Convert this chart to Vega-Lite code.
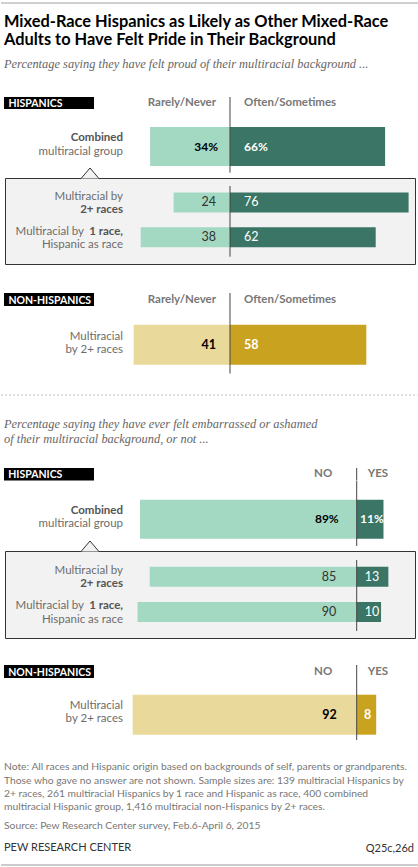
{
 "$schema": "https://vega.github.io/schema/vega-lite/v6.json",
 "padding": 0,
 "spacing": 0,
 "bounds": "flush",
 "center": true,
 "config": {
  "view": {"stroke": null},
  "font": "Lato",
  "text": {"font": "Lato"},
  "locale": {"number": {"decimal": ".", "thousands": ",", "grouping": [3], "currency": ["", "%"]}}
 },
 "datasets": {
  "headers": [
   {"id": "pride_hisp", "population": "HISPANICS", "left": "Rarely/Never", "right": "Often/Sometimes"},
   {"id": "pride_non", "population": "NON-HISPANICS", "left": "Rarely/Never", "right": "Often/Sometimes"},
   {"id": "emb_hisp", "population": "HISPANICS", "left": "NO", "right": "YES"},
   {"id": "emb_non", "population": "NON-HISPANICS", "left": "NO", "right": "YES"}
  ],
  "pride": [
   {"set": "hisp_combined", "group": "Combined multiracial group", "l1": "", "l1b": "Combined", "l2": "multiracial group", "l2b": "", "rarely_never": 34, "often_sometimes": 66},
   {"set": "hisp_sub", "group": "Multiracial by 2+ races", "l1": "Multiracial by", "l1b": "", "l2": "", "l2b": "2+ races", "rarely_never": 24, "often_sometimes": 76},
   {"set": "hisp_sub", "group": "Multiracial by 1 race, Hispanic as race", "l1": "Multiracial by", "l1b": "1 race,", "l2": "Hispanic as race", "l2b": "", "rarely_never": 38, "often_sometimes": 62},
   {"set": "non_hisp", "group": "Non-Hispanic multiracial by 2+ races", "l1": "Multiracial", "l1b": "", "l2": "by 2+ races", "l2b": "", "rarely_never": 41, "often_sometimes": 58}
  ],
  "embarrassed": [
   {"set": "hisp_combined", "group": "Combined multiracial group", "l1": "", "l1b": "Combined", "l2": "multiracial group", "l2b": "", "no": 89, "yes": 11},
   {"set": "hisp_sub", "group": "Multiracial by 2+ races", "l1": "Multiracial by", "l1b": "", "l2": "", "l2b": "2+ races", "no": 85, "yes": 13},
   {"set": "hisp_sub", "group": "Multiracial by 1 race, Hispanic as race", "l1": "Multiracial by", "l1b": "1 race,", "l2": "Hispanic as race", "l2b": "", "no": 90, "yes": 10},
   {"set": "non_hisp", "group": "Non-Hispanic multiracial by 2+ races", "l1": "Multiracial", "l1b": "", "l2": "by 2+ races", "l2b": "", "no": 92, "yes": 8}
  ]
 },
 "vconcat": [
  {"width": 418, "height": 3, "data": {"values": [{}]}, "mark": {"type": "rule", "color": "#a0a0a0", "strokeWidth": 1}, "encoding": {"y": {"datum": 0, "type": "quantitative", "scale": {"domain": [0, 1], "nice": false}, "axis": null}}},
  {"width": 418, "height": 94, "data": {"values": []}, "mark": "text", "encoding": {}},
  {
   "width": 418, "height": 12,
   "title": {
    "text": ["Mixed-Race Hispanics as Likely as Other Mixed-Race", "Adults to Have Felt Pride in Their Background"],
    "subtitle": "Percentage saying they have felt proud of their multiracial background ...",
    "anchor": "start", "frame": "group", "orient": "top", "dx": 3, "offset": 26,
    "font": "Lato", "fontSize": 16.4, "fontWeight": "bold", "color": "#000", "lineHeight": 17.7,
    "subtitleFont": "Liberation Serif", "subtitleFontSize": 12.4, "subtitleFontStyle": "italic", "subtitleColor": "#666", "subtitlePadding": 10
   },
   "data": {"name": "headers"},
   "transform": [{"filter": "datum.id == 'pride_hisp'"}],
   "layer": [
    {"mark": {"type": "rect", "color": "#000"}, "encoding": {"x": {"datum": -96.17, "type": "quantitative", "scale": {"domain": [-97.447, 80.426], "nice": false}, "axis": null}, "x2": {"datum": -57.87}}},
    {"mark": {"type": "text", "align": "left", "baseline": "alphabetic", "dy": 3.7, "fontWeight": "bold", "fontSize": 10.5, "color": "#fff"}, "encoding": {"x": {"datum": -94.3, "type": "quantitative", "scale": {"domain": [-97.447, 80.426], "nice": false}, "axis": null}, "text": {"field": "population"}}},
    {"mark": {"type": "text", "align": "right", "baseline": "alphabetic", "dy": 3, "dx": -14, "fontWeight": "bold", "fontSize": 11.5, "color": "#777"}, "encoding": {"x": {"datum": 0, "type": "quantitative", "scale": {"domain": [-97.447, 80.426], "nice": false}, "axis": null}, "text": {"field": "left"}}},
    {"mark": {"type": "text", "align": "left", "baseline": "alphabetic", "dy": 3, "dx": 14, "fontWeight": "bold", "fontSize": 11.5, "color": "#777"}, "encoding": {"x": {"datum": 0, "type": "quantitative", "scale": {"domain": [-97.447, 80.426], "nice": false}, "axis": null}, "text": {"field": "right"}}},
    {"mark": {"type": "rule", "color": "#444"}, "encoding": {"x": {"datum": 0, "type": "quantitative", "scale": {"domain": [-97.447, 80.426], "nice": false}, "axis": null}}}
   ]
  },
  {
   "width": 418, "height": 69,
   "data": {"name": "pride"},
   "transform": [{"filter": "datum.set == 'hisp_combined'"}],
   "resolve": {"scale": {"x": "independent"}},
   "layer": [
    {"mark": {"type": "bar", "height": 39, "color": "#a3d9c3"}, "encoding": {"y": {"field": "group", "type": "nominal", "scale": {"type": "point", "domain": ["Combined multiracial group"], "padding": 0.5, "align": 0.5435}, "axis": null}, "x": {"field": "rarely_never", "type": "quantitative", "scale": {"domain": [97.447, -80.426], "nice": false}, "axis": null}, "x2": {"datum": 0}}},
    {"mark": {"type": "bar", "height": 39, "color": "#3a7565"}, "encoding": {"y": {"field": "group", "type": "nominal", "scale": {"type": "point", "domain": ["Combined multiracial group"], "padding": 0.5, "align": 0.5435}, "axis": null}, "x": {"field": "often_sometimes", "type": "quantitative", "scale": {"domain": [-97.447, 80.426], "nice": false}, "axis": null}, "x2": {"datum": 0}}},
    {"mark": {"type": "rule", "color": "#444", "yOffset": -37.5, "y2Offset": 26.2}, "encoding": {"x": {"datum": 0, "type": "quantitative", "scale": {"domain": [-97.447, 80.426], "nice": false}, "axis": null}, "y": {"field": "group", "type": "nominal", "scale": {"type": "point", "domain": ["Combined multiracial group"], "padding": 0.5, "align": 0.5435}, "axis": null}, "y2": {"field": "group"}}},
    {"mark": {"type": "text", "align": "right", "baseline": "alphabetic", "dy": -5.2, "fontSize": 11.5, "fontWeight": "bold", "color": "#555"}, "encoding": {"x": {"datum": -45.53, "type": "quantitative", "scale": {"domain": [-97.447, 80.426], "nice": false}, "axis": null}, "y": {"field": "group", "type": "nominal", "scale": {"type": "point", "domain": ["Combined multiracial group"], "padding": 0.5, "align": 0.5435}, "axis": null}, "text": {"field": "l1b"}}},
    {"mark": {"type": "text", "align": "right", "baseline": "alphabetic", "dy": 8.1, "fontSize": 11.5, "color": "#6d6d6d"}, "encoding": {"x": {"datum": -45.53, "type": "quantitative", "scale": {"domain": [-97.447, 80.426], "nice": false}, "axis": null}, "y": {"field": "group", "type": "nominal", "scale": {"type": "point", "domain": ["Combined multiracial group"], "padding": 0.5, "align": 0.5435}, "axis": null}, "text": {"field": "l2"}}},
    {"mark": {"type": "text", "align": "right", "baseline": "middle", "dx": -12, "fontSize": 12, "fontWeight": "bold", "color": "#000"}, "encoding": {"x": {"datum": 0, "type": "quantitative", "scale": {"domain": [-97.447, 80.426], "nice": false}, "axis": null}, "y": {"field": "group", "type": "nominal", "scale": {"type": "point", "domain": ["Combined multiracial group"], "padding": 0.5, "align": 0.5435}, "axis": null}, "text": {"field": "rarely_never", "type": "quantitative", "format": "$d"}}},
    {"mark": {"type": "text", "align": "left", "baseline": "middle", "dx": 14, "fontSize": 12, "fontWeight": "bold", "color": "#fff"}, "encoding": {"x": {"datum": 0, "type": "quantitative", "scale": {"domain": [-97.447, 80.426], "nice": false}, "axis": null}, "y": {"field": "group", "type": "nominal", "scale": {"type": "point", "domain": ["Combined multiracial group"], "padding": 0.5, "align": 0.5435}, "axis": null}, "text": {"field": "often_sometimes", "type": "quantitative", "format": "$d"}}}
   ]
  },
  {
   "width": 410, "height": 86,
   "view": {"fill": "#f2f2f2", "stroke": "#333", "strokeWidth": 1},
   "data": {"name": "pride"},
   "transform": [{"filter": "datum.set == 'hisp_sub'"}],
   "resolve": {"scale": {"x": "independent"}},
   "layer": [
    {"mark": {"type": "bar", "height": 20, "color": "#a3d9c3"}, "encoding": {"y": {"field": "group", "type": "nominal", "scale": {"type": "point", "domain": ["Multiracial by 2+ races", "Multiracial by 1 race, Hispanic as race"], "padding": 0.7356, "align": 0.4785}, "axis": null}, "x": {"field": "rarely_never", "type": "quantitative", "scale": {"domain": [95.745, -78.723], "nice": false}, "axis": null}, "x2": {"datum": 0}}},
    {"mark": {"type": "bar", "height": 20, "color": "#3a7565"}, "encoding": {"y": {"field": "group", "type": "nominal", "scale": {"type": "point", "domain": ["Multiracial by 2+ races", "Multiracial by 1 race, Hispanic as race"], "padding": 0.7356, "align": 0.4785}, "axis": null}, "x": {"field": "often_sometimes", "type": "quantitative", "scale": {"domain": [-95.745, 78.723], "nice": false}, "axis": null}, "x2": {"datum": 0}}},
    {"transform": [{"filter": "datum.l1b == ''"}], "mark": {"type": "rule", "color": "#444", "yOffset": -16.5, "y2Offset": 19.4}, "encoding": {"x": {"datum": 0, "type": "quantitative", "scale": {"domain": [-95.745, 78.723], "nice": false}, "axis": null}, "y": {"datum": "Multiracial by 2+ races", "type": "nominal", "scale": {"type": "point", "domain": ["Multiracial by 2+ races", "Multiracial by 1 race, Hispanic as race"], "padding": 0.7356, "align": 0.4785}, "axis": null}, "y2": {"datum": "Multiracial by 1 race, Hispanic as race"}}},
    {"transform": [{"filter": "datum.l1b == ''"}], "mark": {"type": "point", "shape": "M-1,0.589L0,-0.589L1,0.589", "size": 324, "fill": "#f2f2f2", "stroke": "#333", "strokeWidth": 1, "opacity": 1, "filled": true, "yOffset": -29.2}, "encoding": {"x": {"datum": -59.574, "type": "quantitative", "scale": {"domain": [-95.745, 78.723], "nice": false}, "axis": null}, "y": {"datum": "Multiracial by 2+ races", "type": "nominal", "scale": {"type": "point", "domain": ["Multiracial by 2+ races", "Multiracial by 1 race, Hispanic as race"], "padding": 0.7356, "align": 0.4785}, "axis": null}}},
    {"transform": [{"filter": "datum.l1b == ''"}], "mark": {"type": "text", "align": "right", "baseline": "alphabetic", "dy": -2.5, "fontSize": 11.5, "color": "#6d6d6d"}, "encoding": {"x": {"datum": -45.53, "type": "quantitative", "scale": {"domain": [-95.745, 78.723], "nice": false}, "axis": null}, "y": {"field": "group", "type": "nominal", "scale": {"type": "point", "domain": ["Multiracial by 2+ races", "Multiracial by 1 race, Hispanic as race"], "padding": 0.7356, "align": 0.4785}, "axis": null}, "text": {"field": "l1"}}},
    {"transform": [{"filter": "datum.l1b != ''"}], "mark": {"type": "text", "align": "right", "baseline": "alphabetic", "dy": -2.5, "dx": -39, "fontSize": 11.5, "color": "#6d6d6d"}, "encoding": {"x": {"datum": -45.53, "type": "quantitative", "scale": {"domain": [-95.745, 78.723], "nice": false}, "axis": null}, "y": {"field": "group", "type": "nominal", "scale": {"type": "point", "domain": ["Multiracial by 2+ races", "Multiracial by 1 race, Hispanic as race"], "padding": 0.7356, "align": 0.4785}, "axis": null}, "text": {"field": "l1"}}},
    {"mark": {"type": "text", "align": "right", "baseline": "alphabetic", "dy": -2.5, "fontSize": 11.5, "fontWeight": "bold", "color": "#555"}, "encoding": {"x": {"datum": -45.53, "type": "quantitative", "scale": {"domain": [-95.745, 78.723], "nice": false}, "axis": null}, "y": {"field": "group", "type": "nominal", "scale": {"type": "point", "domain": ["Multiracial by 2+ races", "Multiracial by 1 race, Hispanic as race"], "padding": 0.7356, "align": 0.4785}, "axis": null}, "text": {"field": "l1b"}}},
    {"mark": {"type": "text", "align": "right", "baseline": "alphabetic", "dy": 10.8, "fontSize": 11.5, "color": "#6d6d6d"}, "encoding": {"x": {"datum": -45.53, "type": "quantitative", "scale": {"domain": [-95.745, 78.723], "nice": false}, "axis": null}, "y": {"field": "group", "type": "nominal", "scale": {"type": "point", "domain": ["Multiracial by 2+ races", "Multiracial by 1 race, Hispanic as race"], "padding": 0.7356, "align": 0.4785}, "axis": null}, "text": {"field": "l2"}}},
    {"mark": {"type": "text", "align": "right", "baseline": "alphabetic", "dy": 10.8, "fontSize": 11.5, "fontWeight": "bold", "color": "#555"}, "encoding": {"x": {"datum": -45.53, "type": "quantitative", "scale": {"domain": [-95.745, 78.723], "nice": false}, "axis": null}, "y": {"field": "group", "type": "nominal", "scale": {"type": "point", "domain": ["Multiracial by 2+ races", "Multiracial by 1 race, Hispanic as race"], "padding": 0.7356, "align": 0.4785}, "axis": null}, "text": {"field": "l2b"}}},
    {"mark": {"type": "text", "align": "right", "baseline": "middle", "dx": -14, "fontSize": 12.5, "color": "#333"}, "encoding": {"x": {"datum": 0, "type": "quantitative", "scale": {"domain": [-95.745, 78.723], "nice": false}, "axis": null}, "y": {"field": "group", "type": "nominal", "scale": {"type": "point", "domain": ["Multiracial by 2+ races", "Multiracial by 1 race, Hispanic as race"], "padding": 0.7356, "align": 0.4785}, "axis": null}, "text": {"field": "rarely_never", "type": "quantitative"}}},
    {"mark": {"type": "text", "align": "left", "baseline": "middle", "dx": 14, "fontSize": 12.5, "color": "#fff"}, "encoding": {"x": {"datum": 0, "type": "quantitative", "scale": {"domain": [-95.745, 78.723], "nice": false}, "axis": null}, "y": {"field": "group", "type": "nominal", "scale": {"type": "point", "domain": ["Multiracial by 2+ races", "Multiracial by 1 race, Hispanic as race"], "padding": 0.7356, "align": 0.4785}, "axis": null}, "text": {"field": "often_sometimes", "type": "quantitative"}}}
   ]
  },
  {"width": 418, "height": 28.5, "data": {"values": []}, "mark": "text", "encoding": {}},
  {
   "width": 418, "height": 13,
   "data": {"name": "headers"},
   "transform": [{"filter": "datum.id == 'pride_non'"}],
   "layer": [
    {"mark": {"type": "rect", "color": "#000"}, "encoding": {"x": {"datum": -96.17, "type": "quantitative", "scale": {"domain": [-97.447, 80.426], "nice": false}, "axis": null}, "x2": {"datum": -57.87}}},
    {"mark": {"type": "text", "align": "left", "baseline": "alphabetic", "dy": 4, "fontWeight": "bold", "fontSize": 10.5, "color": "#fff"}, "encoding": {"x": {"datum": -94.3, "type": "quantitative", "scale": {"domain": [-97.447, 80.426], "nice": false}, "axis": null}, "text": {"field": "population"}}},
    {"mark": {"type": "text", "align": "right", "baseline": "alphabetic", "dy": 3, "dx": -14, "fontWeight": "bold", "fontSize": 11.5, "color": "#777"}, "encoding": {"x": {"datum": 0, "type": "quantitative", "scale": {"domain": [-97.447, 80.426], "nice": false}, "axis": null}, "text": {"field": "left"}}},
    {"mark": {"type": "text", "align": "left", "baseline": "alphabetic", "dy": 3, "dx": 14, "fontWeight": "bold", "fontSize": 11.5, "color": "#777"}, "encoding": {"x": {"datum": 0, "type": "quantitative", "scale": {"domain": [-97.447, 80.426], "nice": false}, "axis": null}, "text": {"field": "right"}}},
    {"mark": {"type": "rule", "color": "#444"}, "encoding": {"x": {"datum": 0, "type": "quantitative", "scale": {"domain": [-97.447, 80.426], "nice": false}, "axis": null}}}
   ]
  },
  {
   "width": 418, "height": 67.5,
   "data": {"name": "pride"},
   "transform": [{"filter": "datum.set == 'non_hisp'"}],
   "resolve": {"scale": {"x": "independent"}},
   "layer": [
    {"mark": {"type": "bar", "height": 40, "color": "#e9d99b"}, "encoding": {"y": {"field": "group", "type": "nominal", "scale": {"type": "point", "domain": ["Non-Hispanic multiracial by 2+ races"], "padding": 0.5, "align": 0.5733}, "axis": null}, "x": {"field": "rarely_never", "type": "quantitative", "scale": {"domain": [97.447, -80.426], "nice": false}, "axis": null}, "x2": {"datum": 0}}},
    {"mark": {"type": "bar", "height": 40, "color": "#c9a21f"}, "encoding": {"y": {"field": "group", "type": "nominal", "scale": {"type": "point", "domain": ["Non-Hispanic multiracial by 2+ races"], "padding": 0.5, "align": 0.5733}, "axis": null}, "x": {"field": "often_sometimes", "type": "quantitative", "scale": {"domain": [-97.447, 80.426], "nice": false}, "axis": null}, "x2": {"datum": 0}}},
    {"mark": {"type": "rule", "color": "#444", "yOffset": -38.7, "y2Offset": 28.8}, "encoding": {"x": {"datum": 0, "type": "quantitative", "scale": {"domain": [-97.447, 80.426], "nice": false}, "axis": null}, "y": {"field": "group", "type": "nominal", "scale": {"type": "point", "domain": ["Non-Hispanic multiracial by 2+ races"], "padding": 0.5, "align": 0.5733}, "axis": null}, "y2": {"field": "group"}}},
    {"mark": {"type": "text", "align": "right", "baseline": "alphabetic", "dy": -4.5, "fontSize": 11.5, "color": "#6d6d6d"}, "encoding": {"x": {"datum": -45.53, "type": "quantitative", "scale": {"domain": [-97.447, 80.426], "nice": false}, "axis": null}, "y": {"field": "group", "type": "nominal", "scale": {"type": "point", "domain": ["Non-Hispanic multiracial by 2+ races"], "padding": 0.5, "align": 0.5733}, "axis": null}, "text": {"field": "l1"}}},
    {"mark": {"type": "text", "align": "right", "baseline": "alphabetic", "dy": 8.8, "fontSize": 11.5, "color": "#6d6d6d"}, "encoding": {"x": {"datum": -45.53, "type": "quantitative", "scale": {"domain": [-97.447, 80.426], "nice": false}, "axis": null}, "y": {"field": "group", "type": "nominal", "scale": {"type": "point", "domain": ["Non-Hispanic multiracial by 2+ races"], "padding": 0.5, "align": 0.5733}, "axis": null}, "text": {"field": "l2"}}},
    {"mark": {"type": "text", "align": "right", "baseline": "middle", "dx": -14, "fontSize": 12.5, "fontWeight": "bold", "color": "#000"}, "encoding": {"x": {"datum": 0, "type": "quantitative", "scale": {"domain": [-97.447, 80.426], "nice": false}, "axis": null}, "y": {"field": "group", "type": "nominal", "scale": {"type": "point", "domain": ["Non-Hispanic multiracial by 2+ races"], "padding": 0.5, "align": 0.5733}, "axis": null}, "text": {"field": "rarely_never", "type": "quantitative"}}},
    {"mark": {"type": "text", "align": "left", "baseline": "middle", "dx": 14, "fontSize": 12.5, "fontWeight": "bold", "color": "#fff"}, "encoding": {"x": {"datum": 0, "type": "quantitative", "scale": {"domain": [-97.447, 80.426], "nice": false}, "axis": null}, "y": {"field": "group", "type": "nominal", "scale": {"type": "point", "domain": ["Non-Hispanic multiracial by 2+ races"], "padding": 0.5, "align": 0.5733}, "axis": null}, "text": {"field": "often_sometimes", "type": "quantitative"}}}
   ]
  },
  {"width": 418, "height": 21, "data": {"values": [{}]}, "mark": {"type": "rule", "color": "#aaaaaa", "strokeWidth": 1, "strokeDash": [1.5, 2.5]}, "encoding": {"y": {"datum": 0, "type": "quantitative", "scale": {"domain": [0, 1], "nice": false}, "axis": null}}},
  {"width": 418, "height": 72.5, "data": {"values": []}, "mark": "text", "encoding": {}},
  {
   "width": 418, "height": 12.5,
   "title": {
    "text": ["Percentage saying they have ever felt embarrassed or ashamed", "of their multiracial background, or not ..."],
    "anchor": "start", "frame": "group", "orient": "top", "dx": 3, "offset": 22.5,
    "font": "Liberation Serif", "fontSize": 12.4, "fontStyle": "italic", "fontWeight": "normal", "color": "#666", "lineHeight": 14.8
   },
   "data": {"name": "headers"},
   "transform": [{"filter": "datum.id == 'emb_hisp'"}],
   "layer": [
    {"mark": {"type": "rect", "color": "#000"}, "encoding": {"x": {"datum": -144.85, "type": "quantitative", "scale": {"domain": [-146.078, 25.585], "nice": false}, "axis": null}, "x2": {"datum": -107.89}}},
    {"mark": {"type": "text", "align": "left", "baseline": "alphabetic", "dy": 3.8, "fontWeight": "bold", "fontSize": 10.5, "color": "#fff"}, "encoding": {"x": {"datum": -143.1, "type": "quantitative", "scale": {"domain": [-146.078, 25.585], "nice": false}, "axis": null}, "text": {"field": "population"}}},
    {"mark": {"type": "text", "align": "right", "baseline": "alphabetic", "dy": 2.5, "dx": -24.5, "fontWeight": "bold", "fontSize": 11.5, "color": "#777"}, "encoding": {"x": {"datum": 0, "type": "quantitative", "scale": {"domain": [-146.078, 25.585], "nice": false}, "axis": null}, "text": {"field": "left"}}},
    {"mark": {"type": "text", "align": "left", "baseline": "alphabetic", "dy": 2.5, "dx": 11, "fontWeight": "bold", "fontSize": 11.5, "color": "#777"}, "encoding": {"x": {"datum": 0, "type": "quantitative", "scale": {"domain": [-146.078, 25.585], "nice": false}, "axis": null}, "text": {"field": "right"}}},
    {"mark": {"type": "rule", "color": "#444"}, "encoding": {"x": {"datum": 0, "type": "quantitative", "scale": {"domain": [-146.078, 25.585], "nice": false}, "axis": null}}}
   ]
  },
  {
   "width": 418, "height": 70,
   "data": {"name": "embarrassed"},
   "transform": [{"filter": "datum.set == 'hisp_combined'"}],
   "resolve": {"scale": {"x": "independent"}},
   "layer": [
    {"mark": {"type": "bar", "height": 39, "color": "#a3d9c3"}, "encoding": {"y": {"field": "group", "type": "nominal", "scale": {"type": "point", "domain": ["Combined multiracial group"], "padding": 0.5, "align": 0.5457}, "axis": null}, "x": {"field": "no", "type": "quantitative", "scale": {"domain": [146.078, -25.585], "nice": false}, "axis": null}, "x2": {"datum": 0}}},
    {"mark": {"type": "bar", "height": 39, "color": "#3a7565"}, "encoding": {"y": {"field": "group", "type": "nominal", "scale": {"type": "point", "domain": ["Combined multiracial group"], "padding": 0.5, "align": 0.5457}, "axis": null}, "x": {"field": "yes", "type": "quantitative", "scale": {"domain": [-146.078, 25.585], "nice": false}, "axis": null}, "x2": {"datum": 0}}},
    {"mark": {"type": "rule", "color": "#444", "yOffset": -38.2, "y2Offset": 26.8}, "encoding": {"x": {"datum": 0, "type": "quantitative", "scale": {"domain": [-146.078, 25.585], "nice": false}, "axis": null}, "y": {"field": "group", "type": "nominal", "scale": {"type": "point", "domain": ["Combined multiracial group"], "padding": 0.5, "align": 0.5457}, "axis": null}, "y2": {"field": "group"}}},
    {"mark": {"type": "text", "align": "right", "baseline": "alphabetic", "dy": -5.2, "fontSize": 11.5, "fontWeight": "bold", "color": "#555"}, "encoding": {"x": {"datum": -95.97, "type": "quantitative", "scale": {"domain": [-146.078, 25.585], "nice": false}, "axis": null}, "y": {"field": "group", "type": "nominal", "scale": {"type": "point", "domain": ["Combined multiracial group"], "padding": 0.5, "align": 0.5457}, "axis": null}, "text": {"field": "l1b"}}},
    {"mark": {"type": "text", "align": "right", "baseline": "alphabetic", "dy": 8.1, "fontSize": 11.5, "color": "#6d6d6d"}, "encoding": {"x": {"datum": -95.97, "type": "quantitative", "scale": {"domain": [-146.078, 25.585], "nice": false}, "axis": null}, "y": {"field": "group", "type": "nominal", "scale": {"type": "point", "domain": ["Combined multiracial group"], "padding": 0.5, "align": 0.5457}, "axis": null}, "text": {"field": "l2"}}},
    {"mark": {"type": "text", "align": "right", "baseline": "middle", "dx": -18, "fontSize": 12, "fontWeight": "bold", "color": "#000"}, "encoding": {"x": {"datum": 0, "type": "quantitative", "scale": {"domain": [-146.078, 25.585], "nice": false}, "axis": null}, "y": {"field": "group", "type": "nominal", "scale": {"type": "point", "domain": ["Combined multiracial group"], "padding": 0.5, "align": 0.5457}, "axis": null}, "text": {"field": "no", "type": "quantitative", "format": "$d"}}},
    {"mark": {"type": "text", "align": "left", "baseline": "middle", "dx": 3.3, "fontSize": 12, "fontWeight": "bold", "color": "#fff"}, "encoding": {"x": {"datum": 0, "type": "quantitative", "scale": {"domain": [-146.078, 25.585], "nice": false}, "axis": null}, "y": {"field": "group", "type": "nominal", "scale": {"type": "point", "domain": ["Combined multiracial group"], "padding": 0.5, "align": 0.5457}, "axis": null}, "text": {"field": "yes", "type": "quantitative", "format": "$d"}}}
   ]
  },
  {
   "width": 410, "height": 87,
   "view": {"fill": "#f2f2f2", "stroke": "#333", "strokeWidth": 1},
   "data": {"name": "embarrassed"},
   "transform": [{"filter": "datum.set == 'hisp_sub'"}],
   "resolve": {"scale": {"x": "independent"}},
   "layer": [
    {"mark": {"type": "bar", "height": 20, "color": "#a3d9c3"}, "encoding": {"y": {"field": "group", "type": "nominal", "scale": {"type": "point", "domain": ["Multiracial by 2+ races", "Multiracial by 1 race, Hispanic as race"], "padding": 0.7323, "align": 0.4971}, "axis": null}, "x": {"field": "no", "type": "quantitative", "scale": {"domain": [144.435, -23.943], "nice": false}, "axis": null}, "x2": {"datum": 0}}},
    {"mark": {"type": "bar", "height": 20, "color": "#3a7565"}, "encoding": {"y": {"field": "group", "type": "nominal", "scale": {"type": "point", "domain": ["Multiracial by 2+ races", "Multiracial by 1 race, Hispanic as race"], "padding": 0.7323, "align": 0.4971}, "axis": null}, "x": {"field": "yes", "type": "quantitative", "scale": {"domain": [-144.435, 23.943], "nice": false}, "axis": null}, "x2": {"datum": 0}}},
    {"transform": [{"filter": "datum.l1b == ''"}], "mark": {"type": "rule", "color": "#444", "yOffset": -16.7, "y2Offset": 19}, "encoding": {"x": {"datum": 0, "type": "quantitative", "scale": {"domain": [-144.435, 23.943], "nice": false}, "axis": null}, "y": {"datum": "Multiracial by 2+ races", "type": "nominal", "scale": {"type": "point", "domain": ["Multiracial by 2+ races", "Multiracial by 1 race, Hispanic as race"], "padding": 0.7323, "align": 0.4971}, "axis": null}, "y2": {"datum": "Multiracial by 1 race, Hispanic as race"}}},
    {"transform": [{"filter": "datum.l1b == ''"}], "mark": {"type": "point", "shape": "M-1,0.589L0,-0.589L1,0.589", "size": 324, "fill": "#f2f2f2", "stroke": "#333", "strokeWidth": 1, "opacity": 1, "filled": true, "yOffset": -30.4}, "encoding": {"x": {"datum": -109.53, "type": "quantitative", "scale": {"domain": [-144.435, 23.943], "nice": false}, "axis": null}, "y": {"datum": "Multiracial by 2+ races", "type": "nominal", "scale": {"type": "point", "domain": ["Multiracial by 2+ races", "Multiracial by 1 race, Hispanic as race"], "padding": 0.7323, "align": 0.4971}, "axis": null}}},
    {"transform": [{"filter": "datum.l1b == ''"}], "mark": {"type": "text", "align": "right", "baseline": "alphabetic", "dy": -2.8, "fontSize": 11.5, "color": "#6d6d6d"}, "encoding": {"x": {"datum": -95.97, "type": "quantitative", "scale": {"domain": [-144.435, 23.943], "nice": false}, "axis": null}, "y": {"field": "group", "type": "nominal", "scale": {"type": "point", "domain": ["Multiracial by 2+ races", "Multiracial by 1 race, Hispanic as race"], "padding": 0.7323, "align": 0.4971}, "axis": null}, "text": {"field": "l1"}}},
    {"transform": [{"filter": "datum.l1b != ''"}], "mark": {"type": "text", "align": "right", "baseline": "alphabetic", "dy": -2.8, "dx": -39, "fontSize": 11.5, "color": "#6d6d6d"}, "encoding": {"x": {"datum": -95.97, "type": "quantitative", "scale": {"domain": [-144.435, 23.943], "nice": false}, "axis": null}, "y": {"field": "group", "type": "nominal", "scale": {"type": "point", "domain": ["Multiracial by 2+ races", "Multiracial by 1 race, Hispanic as race"], "padding": 0.7323, "align": 0.4971}, "axis": null}, "text": {"field": "l1"}}},
    {"mark": {"type": "text", "align": "right", "baseline": "alphabetic", "dy": -2.8, "fontSize": 11.5, "fontWeight": "bold", "color": "#555"}, "encoding": {"x": {"datum": -95.97, "type": "quantitative", "scale": {"domain": [-144.435, 23.943], "nice": false}, "axis": null}, "y": {"field": "group", "type": "nominal", "scale": {"type": "point", "domain": ["Multiracial by 2+ races", "Multiracial by 1 race, Hispanic as race"], "padding": 0.7323, "align": 0.4971}, "axis": null}, "text": {"field": "l1b"}}},
    {"mark": {"type": "text", "align": "right", "baseline": "alphabetic", "dy": 10.6, "fontSize": 11.5, "color": "#6d6d6d"}, "encoding": {"x": {"datum": -95.97, "type": "quantitative", "scale": {"domain": [-144.435, 23.943], "nice": false}, "axis": null}, "y": {"field": "group", "type": "nominal", "scale": {"type": "point", "domain": ["Multiracial by 2+ races", "Multiracial by 1 race, Hispanic as race"], "padding": 0.7323, "align": 0.4971}, "axis": null}, "text": {"field": "l2"}}},
    {"mark": {"type": "text", "align": "right", "baseline": "alphabetic", "dy": 10.6, "fontSize": 11.5, "fontWeight": "bold", "color": "#555"}, "encoding": {"x": {"datum": -95.97, "type": "quantitative", "scale": {"domain": [-144.435, 23.943], "nice": false}, "axis": null}, "y": {"field": "group", "type": "nominal", "scale": {"type": "point", "domain": ["Multiracial by 2+ races", "Multiracial by 1 race, Hispanic as race"], "padding": 0.7323, "align": 0.4971}, "axis": null}, "text": {"field": "l2b"}}},
    {"mark": {"type": "text", "align": "right", "baseline": "middle", "dx": -20.5, "fontSize": 12.5, "color": "#333"}, "encoding": {"x": {"datum": 0, "type": "quantitative", "scale": {"domain": [-144.435, 23.943], "nice": false}, "axis": null}, "y": {"field": "group", "type": "nominal", "scale": {"type": "point", "domain": ["Multiracial by 2+ races", "Multiracial by 1 race, Hispanic as race"], "padding": 0.7323, "align": 0.4971}, "axis": null}, "text": {"field": "no", "type": "quantitative"}}},
    {"mark": {"type": "text", "align": "left", "baseline": "middle", "dx": 8, "fontSize": 12.5, "color": "#fff"}, "encoding": {"x": {"datum": 0, "type": "quantitative", "scale": {"domain": [-144.435, 23.943], "nice": false}, "axis": null}, "y": {"field": "group", "type": "nominal", "scale": {"type": "point", "domain": ["Multiracial by 2+ races", "Multiracial by 1 race, Hispanic as race"], "padding": 0.7323, "align": 0.4971}, "axis": null}, "text": {"field": "yes", "type": "quantitative"}}}
   ]
  },
  {"width": 418, "height": 27, "data": {"values": []}, "mark": "text", "encoding": {}},
  {
   "width": 418, "height": 13,
   "data": {"name": "headers"},
   "transform": [{"filter": "datum.id == 'emb_non'"}],
   "layer": [
    {"mark": {"type": "rect", "color": "#000"}, "encoding": {"x": {"datum": -144.85, "type": "quantitative", "scale": {"domain": [-146.078, 25.585], "nice": false}, "axis": null}, "x2": {"datum": -107.89}}},
    {"mark": {"type": "text", "align": "left", "baseline": "alphabetic", "dy": 4, "fontWeight": "bold", "fontSize": 10.5, "color": "#fff"}, "encoding": {"x": {"datum": -143.1, "type": "quantitative", "scale": {"domain": [-146.078, 25.585], "nice": false}, "axis": null}, "text": {"field": "population"}}},
    {"mark": {"type": "text", "align": "right", "baseline": "alphabetic", "dy": 3, "dx": -24.5, "fontWeight": "bold", "fontSize": 11.5, "color": "#777"}, "encoding": {"x": {"datum": 0, "type": "quantitative", "scale": {"domain": [-146.078, 25.585], "nice": false}, "axis": null}, "text": {"field": "left"}}},
    {"mark": {"type": "text", "align": "left", "baseline": "alphabetic", "dy": 3, "dx": 11, "fontWeight": "bold", "fontSize": 11.5, "color": "#777"}, "encoding": {"x": {"datum": 0, "type": "quantitative", "scale": {"domain": [-146.078, 25.585], "nice": false}, "axis": null}, "text": {"field": "right"}}},
    {"mark": {"type": "rule", "color": "#444"}, "encoding": {"x": {"datum": 0, "type": "quantitative", "scale": {"domain": [-146.078, 25.585], "nice": false}, "axis": null}}}
   ]
  },
  {
   "width": 418, "height": 62,
   "title": {
    "text": ["Note: All races and Hispanic origin based on backgrounds of self, parents or grandparents.", "Those who gave no answer are not shown. Sample sizes are: 139 multiracial Hispanics by", "2+ races, 261 multiracial Hispanics by 1 race and Hispanic as race, 400 combined", "multiracial Hispanic group, 1,416 multiracial non-Hispanics by 2+ races."],
    "subtitle": "Source: Pew Research Center survey, Feb.6-April 6, 2015",
    "anchor": "start", "frame": "group", "orient": "bottom", "dx": 3, "offset": 22,
    "font": "Lato", "fontSize": 10.3, "fontWeight": "normal", "color": "#777", "lineHeight": 13.3,
    "subtitleFont": "Lato", "subtitleFontSize": 10.3, "subtitleColor": "#777", "subtitlePadding": 8
   },
   "data": {"name": "embarrassed"},
   "transform": [{"filter": "datum.set == 'non_hisp'"}],
   "resolve": {"scale": {"x": "independent"}},
   "layer": [
    {"mark": {"type": "bar", "height": 40, "color": "#e9d99b"}, "encoding": {"y": {"field": "group", "type": "nominal", "scale": {"type": "point", "domain": ["Non-Hispanic multiracial by 2+ races"], "padding": 0.5, "align": 0.5919}, "axis": null}, "x": {"field": "no", "type": "quantitative", "scale": {"domain": [146.078, -25.585], "nice": false}, "axis": null}, "x2": {"datum": 0}}},
    {"mark": {"type": "bar", "height": 40, "color": "#c9a21f"}, "encoding": {"y": {"field": "group", "type": "nominal", "scale": {"type": "point", "domain": ["Non-Hispanic multiracial by 2+ races"], "padding": 0.5, "align": 0.5919}, "axis": null}, "x": {"field": "yes", "type": "quantitative", "scale": {"domain": [-146.078, 25.585], "nice": false}, "axis": null}, "x2": {"datum": 0}}},
    {"mark": {"type": "rule", "color": "#444", "yOffset": -36.7, "y2Offset": 25.3}, "encoding": {"x": {"datum": 0, "type": "quantitative", "scale": {"domain": [-146.078, 25.585], "nice": false}, "axis": null}, "y": {"field": "group", "type": "nominal", "scale": {"type": "point", "domain": ["Non-Hispanic multiracial by 2+ races"], "padding": 0.5, "align": 0.5919}, "axis": null}, "y2": {"field": "group"}}},
    {"mark": {"type": "text", "align": "right", "baseline": "alphabetic", "dy": -5.5, "fontSize": 11.5, "color": "#6d6d6d"}, "encoding": {"x": {"datum": -95.97, "type": "quantitative", "scale": {"domain": [-146.078, 25.585], "nice": false}, "axis": null}, "y": {"field": "group", "type": "nominal", "scale": {"type": "point", "domain": ["Non-Hispanic multiracial by 2+ races"], "padding": 0.5, "align": 0.5919}, "axis": null}, "text": {"field": "l1"}}},
    {"mark": {"type": "text", "align": "right", "baseline": "alphabetic", "dy": 7.8, "fontSize": 11.5, "color": "#6d6d6d"}, "encoding": {"x": {"datum": -95.97, "type": "quantitative", "scale": {"domain": [-146.078, 25.585], "nice": false}, "axis": null}, "y": {"field": "group", "type": "nominal", "scale": {"type": "point", "domain": ["Non-Hispanic multiracial by 2+ races"], "padding": 0.5, "align": 0.5919}, "axis": null}, "text": {"field": "l2"}}},
    {"mark": {"type": "text", "align": "right", "baseline": "middle", "dx": -20, "fontSize": 12.5, "fontWeight": "bold", "color": "#000"}, "encoding": {"x": {"datum": 0, "type": "quantitative", "scale": {"domain": [-146.078, 25.585], "nice": false}, "axis": null}, "y": {"field": "group", "type": "nominal", "scale": {"type": "point", "domain": ["Non-Hispanic multiracial by 2+ races"], "padding": 0.5, "align": 0.5919}, "axis": null}, "text": {"field": "no", "type": "quantitative"}}},
    {"mark": {"type": "text", "align": "left", "baseline": "middle", "dx": 7.3, "fontSize": 12.5, "fontWeight": "bold", "color": "#fff"}, "encoding": {"x": {"datum": 0, "type": "quantitative", "scale": {"domain": [-146.078, 25.585], "nice": false}, "axis": null}, "y": {"field": "group", "type": "nominal", "scale": {"type": "point", "domain": ["Non-Hispanic multiracial by 2+ races"], "padding": 0.5, "align": 0.5919}, "axis": null}, "text": {"field": "yes", "type": "quantitative"}}}
   ]
  },
  {"width": 418, "height": 125, "data": {"values": [{}]}, "mark": {"type": "rule", "color": "#999999", "strokeWidth": 1}, "encoding": {"y": {"datum": 0, "type": "quantitative", "scale": {"domain": [0, 1], "nice": false}, "axis": null}}},
  {"width": 418, "height": 0.01,
   "title": {"text": "PEW RESEARCH CENTER", "anchor": "start", "frame": "group", "orient": "top", "dx": 3, "offset": 12, "font": "Lato", "fontSize": 11, "fontWeight": "normal", "color": "#333"},
   "data": {"values": []}, "mark": "text", "encoding": {}},
  {"width": 418, "height": 0.01,
   "title": {"text": "Q25c,26d", "anchor": "end", "frame": "group", "orient": "top", "dx": -5, "offset": 12, "font": "Lato", "fontSize": 11, "fontWeight": "normal", "color": "#333"},
   "data": {"values": []}, "mark": "text", "encoding": {}}
 ]
}
